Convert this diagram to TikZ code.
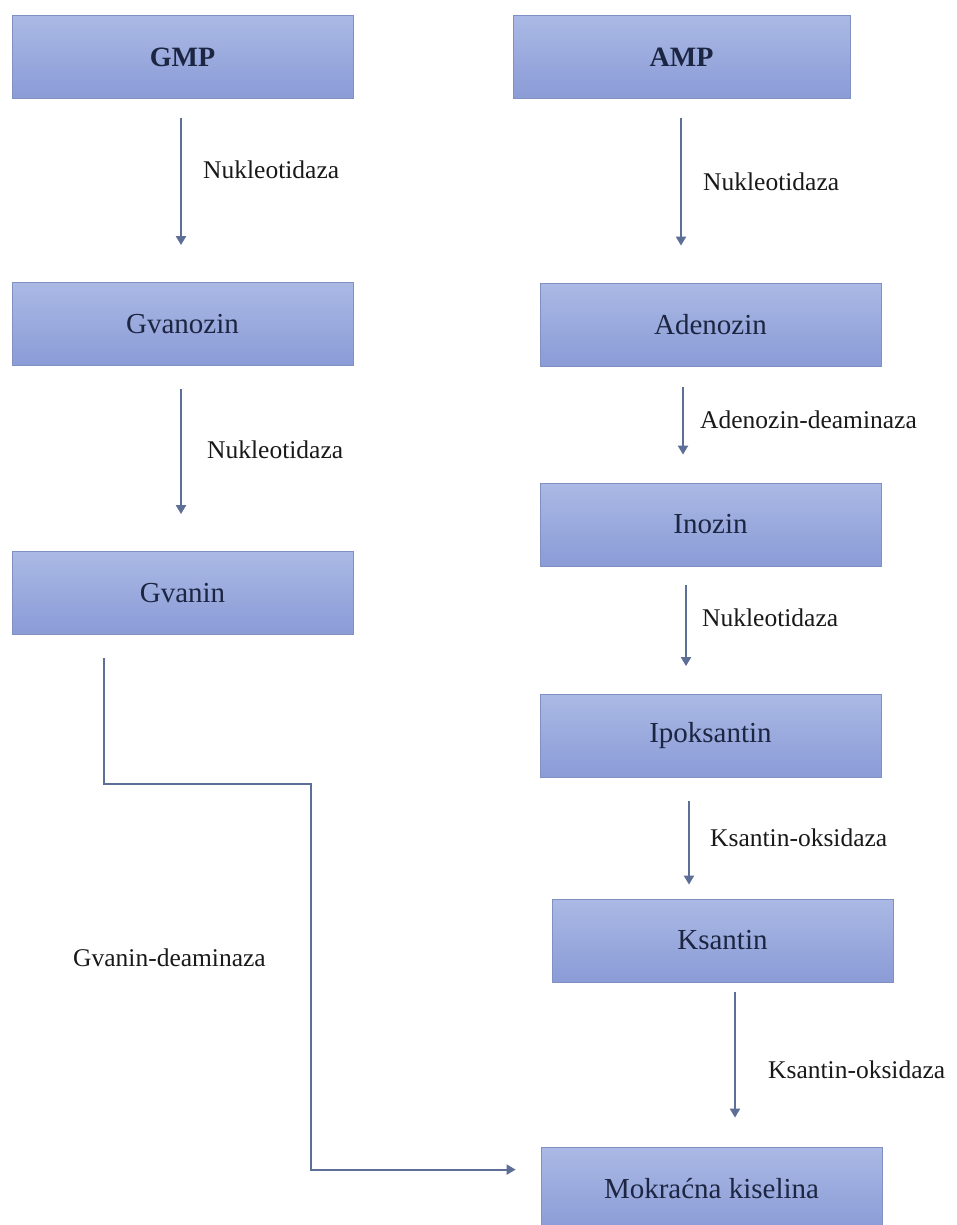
\documentclass[tikz,border=0pt]{standalone}
\usepackage{fontspec}
\setmainfont{Liberation Serif}
\usetikzlibrary{arrows.meta,calc}
\definecolor{boxtop}{HTML}{AAB9E4}
\definecolor{boxbot}{HTML}{8A9BD7}
\definecolor{boxline}{HTML}{8190C2}
\definecolor{boxtext}{HTML}{1C2541}
\definecolor{arrcol}{HTML}{5D6E97}
\tikzset{
  box/.style={rectangle, top color=boxtop, bottom color=boxbot, draw=boxline, line width=0.8pt,
    minimum width=341pt, minimum height=83pt, inner sep=0pt, text=boxtext,
    font=\fontsize{29}{34}\selectfont},
  boldbox/.style={box, font=\fontsize{28}{34}\selectfont\bfseries},
  lbl/.style={anchor=west, inner sep=0pt, text=black!90, font=\fontsize{25.5}{30}\selectfont},
  arr/.style={draw=arrcol, line width=2pt, -{Triangle[width=10pt,length=9pt]}}
}
\begin{document}
\begin{tikzpicture}[x=1pt,y=-1pt]
\clip (0,0) rectangle (957,1225);
\fill[white] (0,0) rectangle (957,1225);
% boxes
\node[boldbox] (gmp) at (182.5,57) {GMP};
\node[boldbox, minimum width=337pt] (amp) at (681.5,57) {AMP};
\node[box] (gvanozin) at (182.5,324) {Gvanozin};
\node[box] (adenozin) at (710.5,324.5) {Adenozin};
\node[box] (gvanin) at (182.5,593) {Gvanin};
\node[box] (inozin) at (710.5,524.5) {Inozin};
\node[box] (ipoksantin) at (710.5,736) {Ipoksantin};
\node[box] (ksantin) at (722.5,940.5) {Ksantin};
\node[box, minimum height=84pt] (mokracna) at (711.5,1189) {Mokraćna kiselina};
% labels
\node[lbl] (l1) at (203,170) {Nukleotidaza};
\node[lbl] (l2) at (703,182) {Nukleotidaza};
\node[lbl] (l3) at (207,450) {Nukleotidaza};
\node[lbl] (l4) at (700,420) {Adenozin-deaminaza};
\node[lbl] (l5) at (702,618) {Nukleotidaza};
\node[lbl] (l6) at (710,838) {Ksantin-oksidaza};
\node[lbl] (l7) at (768,1070) {Ksantin-oksidaza};
\node[lbl] (l8) at (73,958) {Gvanin-deaminaza};
% connectors
\draw[arr] ($(gmp.south)+(-1.5,19)$) -- ($(gvanozin.north)+(-1.5,-37)$);
\draw[arr] ($(amp.south)+(-0.5,19)$) -- ($(adenozin.north)+(-29.5,-37)$);
\draw[arr] ($(gvanozin.south)+(-1.5,23)$) -- ($(gvanin.north)+(-1.5,-37)$);
\draw[arr] ($(adenozin.south)+(-27.5,21)$) -- ($(inozin.north)+(-27.5,-28)$);
\draw[arr] ($(inozin.south)+(-24.5,19)$) -- ($(ipoksantin.north)+(-24.5,-28)$);
\draw[arr] ($(ipoksantin.south)+(-21.5,23)$) -- ($(ksantin.north)+(-33.5,-14)$);
\draw[arr] ($(ksantin.south)+(12.5,10)$) -- ($(mokracna.north)+(23.5,-29)$);
\draw[arr] ($(gvanin.south)+(-78.5,23)$) -- ++(0,126) -- ++(207,0) |- ($(mokracna.north west)+(-25,23)$);
\end{tikzpicture}
\end{document}
